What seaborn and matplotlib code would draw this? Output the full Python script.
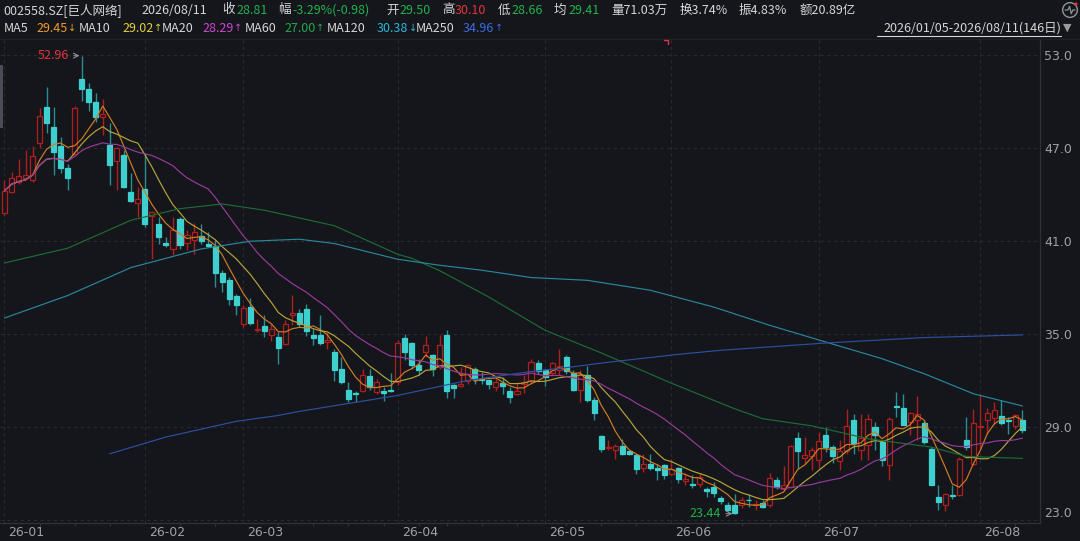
import matplotlib
matplotlib.use("Agg")
import matplotlib.pyplot as plt
import matplotlib.transforms as mtransforms
from matplotlib.patches import Rectangle, Circle
from matplotlib.lines import Line2D
import numpy as np
import pandas as pd
import seaborn as sns

# daily candles, 2026/01/05 - 2026/08/11 (146 trading days)
opens = [42.85, 44.20, 44.80, 45.10, 44.94, 47.30, 49.67, 48.37, 47.13, 45.75,
         46.61, 51.43, 50.79, 49.95, 49.00, 47.19, 46.18, 46.55, 44.16, 43.45,
         44.35, 42.63, 42.14, 40.90, 40.53, 42.42, 40.90, 41.06, 41.32, 40.79,
         40.68, 38.98, 38.53, 37.45, 35.66, 36.76, 35.30, 35.52, 34.98, 34.81,
         34.40, 36.27, 36.40, 36.66, 34.94, 34.94, 34.50, 33.86, 32.74, 31.39,
         31.21, 31.32, 32.31, 31.28, 31.37, 31.38, 31.92, 34.77, 34.44, 33.00,
         33.86, 33.69, 32.90, 34.94, 31.71, 31.66, 31.99, 32.79, 32.14, 32.03,
         31.60, 31.88, 31.32, 31.13, 31.82, 31.97, 33.15, 32.68, 32.50, 32.68,
         33.54, 32.50, 31.39, 32.35, 30.79, 28.42, 27.70, 27.52, 27.77, 27.47,
         27.19, 26.40, 26.66, 26.40, 26.55, 25.97, 26.38, 25.53, 25.37, 25.32,
         25.00, 25.19, 24.44, 24.03, 23.97, 24.03, 24.35, 23.97, 24.10, 24.01,
         25.58, 25.05, 25.15, 28.31, 27.05, 27.13, 26.87, 28.53, 27.73, 26.83,
         27.47, 29.45, 27.56, 27.84, 29.02, 28.05, 26.55, 30.38, 30.27, 29.34,
         29.50, 29.30, 27.63, 24.50, 24.03, 24.66, 24.66, 28.16, 26.66, 29.02,
         29.50, 29.63, 29.71, 29.50, 29.06, 29.50]
highs = [44.94, 45.47, 46.33, 46.87, 47.13, 49.56, 50.95, 49.67, 47.69, 46.00,
         49.70, 52.96, 51.17, 50.53, 50.14, 48.60, 47.08, 46.87, 45.37, 44.50,
         46.66, 42.96, 42.57, 41.28, 42.57, 42.57, 41.71, 42.18, 42.14, 41.60,
         41.06, 39.13, 38.70, 37.63, 36.90, 37.34, 36.01, 36.27, 35.64, 35.15,
         35.90, 37.52, 36.66, 36.98, 35.37, 36.23, 35.15, 34.03, 33.54, 31.92,
         31.34, 32.74, 32.74, 32.10, 31.60, 32.53, 34.61, 35.04, 34.50, 33.43,
         34.87, 33.75, 34.94, 35.26, 31.82, 32.90, 33.11, 32.90, 32.57, 32.14,
         32.14, 32.25, 31.60, 31.92, 32.35, 33.43, 33.37, 32.79, 33.21, 34.08,
         33.69, 32.68, 32.68, 32.94, 30.95, 28.48, 28.21, 27.95, 28.27, 27.56,
         27.26, 27.30, 27.30, 26.66, 26.66, 26.98, 26.44, 26.05, 25.90, 26.05,
         25.15, 25.47, 24.61, 24.18, 24.72, 24.50, 24.72, 24.34, 24.29, 26.05,
         25.80, 26.48, 27.84, 28.70, 28.40, 27.73, 28.70, 29.02, 27.84, 28.16,
         30.20, 29.88, 29.88, 29.88, 29.34, 28.21, 29.67, 31.28, 31.13, 29.99,
         31.02, 29.45, 27.73, 25.30, 24.76, 25.26, 27.08, 29.67, 30.20, 31.17,
         30.27, 30.63, 30.79, 29.67, 29.88, 30.10]
lows = [42.68, 44.08, 44.68, 44.94, 44.83, 46.98, 47.95, 45.26, 45.37, 44.33,
        46.50, 50.05, 49.40, 48.70, 47.84, 44.60, 44.33, 44.40, 43.54, 42.57,
        41.92, 39.88, 40.85, 40.63, 40.10, 40.53, 40.42, 40.20, 40.85, 40.60,
        38.05, 37.73, 36.87, 36.23, 35.50, 35.58, 35.15, 34.83, 34.55, 33.11,
        34.29, 35.58, 35.47, 34.89, 34.29, 34.34, 34.03, 32.00, 31.82, 30.63,
        30.63, 31.28, 31.39, 31.17, 30.68, 31.28, 31.75, 33.32, 32.79, 32.35,
        33.54, 32.29, 32.79, 30.92, 30.92, 31.60, 31.82, 31.82, 31.82, 31.50,
        31.32, 31.17, 30.59, 31.06, 31.21, 31.82, 32.46, 31.64, 32.35, 32.35,
        32.46, 31.34, 30.63, 30.63, 29.50, 27.41, 27.52, 26.98, 27.19, 27.19,
        26.01, 26.12, 26.23, 25.63, 25.69, 25.90, 25.41, 25.26, 25.11, 25.15,
        24.50, 24.50, 24.08, 23.60, 23.44, 23.82, 23.86, 23.69, 23.82, 23.86,
        25.05, 24.94, 25.11, 26.34, 26.66, 26.23, 26.40, 27.41, 26.70, 26.23,
        27.30, 27.26, 26.87, 26.87, 27.52, 26.48, 25.58, 29.67, 29.13, 28.48,
        28.16, 27.95, 25.26, 23.69, 23.60, 24.40, 24.61, 27.52, 26.55, 27.63,
        28.59, 29.24, 29.13, 28.59, 28.92, 28.66]
closes = [44.25, 45.10, 45.19, 45.30, 46.48, 49.06, 48.63, 46.72, 45.75, 45.10,
          49.60, 50.79, 49.95, 49.02, 49.20, 45.90, 46.98, 44.50, 43.60, 43.69,
          42.14, 42.89, 41.28, 40.76, 41.70, 40.76, 41.39, 41.60, 41.02, 40.70,
          38.98, 38.37, 37.30, 36.87, 36.70, 35.75, 35.37, 35.24, 35.37, 34.12,
          35.66, 36.40, 35.69, 35.19, 34.79, 34.44, 34.66, 32.68, 31.92, 30.85,
          31.15, 32.35, 31.58, 31.92, 31.24, 31.35, 34.46, 33.86, 33.00, 32.68,
          34.34, 32.74, 34.34, 31.32, 31.56, 31.82, 33.04, 32.10, 32.03, 31.82,
          31.92, 31.66, 30.95, 31.32, 31.92, 33.23, 32.61, 32.25, 33.17, 32.96,
          32.61, 31.43, 32.40, 30.74, 29.92, 27.63, 27.75, 27.77, 27.26, 27.30,
          26.34, 26.66, 26.40, 26.23, 25.90, 26.34, 25.65, 25.69, 25.26, 25.80,
          24.89, 24.76, 24.25, 23.69, 23.50, 24.34, 24.29, 24.08, 23.90, 25.76,
          25.19, 25.26, 27.77, 27.47, 27.24, 27.56, 28.10, 27.73, 27.15, 27.45,
          29.09, 28.01, 28.33, 29.56, 28.53, 26.91, 29.56, 30.32, 29.17, 29.92,
          29.88, 28.05, 25.30, 24.18, 24.72, 24.55, 26.98, 27.73, 29.28, 29.09,
          29.94, 30.10, 29.28, 29.39, 29.79, 28.81]

# long moving averages (they need history before the window)
ma60_idx = [0, 9, 18, 25, 31, 37, 47, 56, 58, 62, 69, 77, 85, 95, 104, 108, 115, 123, 132, 137, 145]
ma60_val = [39.6, 40.55, 42.35, 43.1, 43.4, 43.0, 42.0, 40.16, 39.9, 39.1, 37.4, 35.26, 33.8,
            31.85, 30.2, 29.56, 29.1, 28.27, 27.73, 27.13, 27.0]
ma120_idx = [0, 9, 13, 18, 23, 28, 35, 42, 47, 56, 62, 68, 75, 83, 92, 101, 109, 117, 125, 131, 138, 145]
ma120_val = [36.05, 37.5, 38.3, 39.3, 39.9, 40.5, 41.0, 41.13, 40.85, 39.84, 39.45, 39.13, 38.66,
             38.48, 37.84, 36.76, 35.58, 34.5, 33.43, 32.46, 31.17, 30.38]
ma250_idx = [15, 23, 33, 39, 42, 56, 66, 75, 80, 86, 96, 102, 117, 131, 145]
ma250_val = [27.3, 28.38, 29.39, 29.77, 30.03, 31.06, 32.03, 32.6, 32.85, 33.2, 33.71, 33.97,
             34.44, 34.79, 34.96]

month_starts = [0, 20, 34, 56, 77, 95, 116, 139]
month_labels = ["26-01", "26-02", "26-03", "26-04", "26-05", "26-06", "26-07", "26-08"]
week_starts = [5, 10, 15, 25, 30, 39, 44, 49, 54, 59, 63, 68, 73, 80, 85, 90,
               100, 105, 109, 114, 119, 124, 129, 134, 144]
price_ticks = [53.0, 47.0, 41.0, 35.0, 29.0, 23.0]

W, H = 1080, 541
BG = "#14161b"
UP = "#b01e1e"
DOWN = "#3ecfcf"
DOWN_WICK = "#2c8e90"
GRID = "#272a31"
TXT = "#d6d6d6"
AXTXT = "#9ea2a8"
GREEN = "#22b14c"
RED = "#e2363a"


def fx(x):
    return x / W


def fy(y):
    return 1 - y / H


sns.set_theme(style="dark", rc={"axes.facecolor": BG, "figure.facecolor": BG,
                                "savefig.facecolor": BG})
plt.rcParams["font.family"] = ["Noto Sans CJK SC", "DejaVu Sans"]

fig = plt.figure(figsize=(W / 100, H / 100), dpi=100)
ax_top, ax_bot = 40, 522.5
ax = fig.add_axes([0, fy(ax_bot), fx(1040), (ax_bot - ax_top) / H])
ax.set_facecolor(BG)

n = len(closes)
df = pd.DataFrame({"idx": np.arange(n), "open": opens, "high": highs,
                   "low": lows, "close": closes})
for w in (5, 10, 20):
    df[f"MA{w}"] = df["close"].rolling(w, min_periods=1).mean()

# grid
for p in price_ticks:
    ax.axhline(p, color=GRID, lw=0.8, ls=(0, (3, 3)), zorder=0)
for m in month_starts:
    ax.axvline(m, color=GRID, lw=0.8, ls=(0, (3, 3)), zorder=0)

# candles
for r in df.itertuples():
    up = r.close >= r.open
    lo, hi = min(r.open, r.close), max(r.open, r.close)
    ax.vlines(r.idx, r.low, r.high, color=UP if up else DOWN_WICK, lw=1.0, zorder=2)
    ax.add_patch(Rectangle((r.idx - 0.36, lo), 0.72, max(hi - lo, 0.04),
                           facecolor=BG if up else DOWN, edgecolor=UP if up else DOWN,
                           lw=0.9, zorder=3))

# moving averages
for col, c in [("MA5", "#d27c22"), ("MA10", "#b5a43a"), ("MA20", "#983a9a")]:
    sns.lineplot(data=df, x="idx", y=col, color=c, lw=0.85, ax=ax, zorder=4)
sns.lineplot(x=ma60_idx, y=ma60_val, color="#1d6c36", lw=0.85, ax=ax, zorder=4)
sns.lineplot(x=ma120_idx, y=ma120_val, color="#29879a", lw=0.85, ax=ax, zorder=4)
sns.lineplot(x=ma250_idx, y=ma250_val, color="#2e4ea0", lw=0.85, ax=ax, zorder=4)

# high / low markers
hi_i = int(np.argmax(highs))
lo_i = int(np.argmin(lows))
ax.annotate(f"{highs[hi_i]:.2f}", xy=(hi_i - 0.3, highs[hi_i]), xytext=(hi_i - 1.8, highs[hi_i]),
            ha="right", va="center", color=RED, fontsize=9,
            arrowprops=dict(arrowstyle="->", color="#8a8d92", lw=0.8, shrinkA=1, shrinkB=0))
ax.annotate(f"{lows[lo_i]:.2f}", xy=(lo_i - 0.3, lows[lo_i]), xytext=(lo_i - 1.9, lows[lo_i]),
            ha="right", va="center", color=GREEN, fontsize=9,
            arrowprops=dict(arrowstyle="->", color="#8a8d92", lw=0.8, shrinkA=1, shrinkB=0))

ax.set_xlim(-0.64, 147.5)
ax.set_ylim(22.87, 53.97)
ax.set_xlabel("")
ax.set_ylabel("")

ax.yaxis.tick_right()
ax.set_yticks(price_ticks, [f"{p:.1f}" for p in price_ticks])
ax.tick_params(axis="y", length=0, pad=3, labelsize=9, labelcolor=AXTXT)
for lab in ax.get_yticklabels():
    lab.set_fontfamily("DejaVu Sans")
ax.get_yticklabels()[-1].set_va("bottom")

# x axis: long month ticks, short weekly ticks, labels beside the month ticks
ax.set_xticks(month_starts, [""] * len(month_starts))
ax.set_xticks(week_starts, minor=True)
ax.tick_params(axis="x", which="major", length=9, width=0.8, color="#30333a", direction="out")
ax.tick_params(axis="x", which="minor", length=2.5, width=0.8, color="#30333a",
               direction="out", bottom=True)
shift = mtransforms.ScaledTranslation(4 / 100, 0, fig.dpi_scale_trans)
lab_y = -(532.5 - ax_bot) / (ax_bot - ax_top)
for m, s in zip(month_starts, month_labels):
    ax.text(m, lab_y, s, transform=ax.get_xaxis_transform() + shift, ha="left", va="center",
            color=AXTXT, fontsize=9, family="DejaVu Sans", clip_on=False)

for side in ("top", "left"):
    ax.spines[side].set_visible(False)
for side in ("bottom", "right"):
    ax.spines[side].set_color("#2e3138")
    ax.spines[side].set_linewidth(0.9)

# header row 1
fs = 9
row1 = [
    (3, "002558.SZ[巨人网络]", TXT), (141, "2026/08/11", TXT),
    (222, "收", TXT), (236, "28.81", GREEN),
    (278, "幅", TXT), (292, "-3.29%(-0.98)", GREEN),
    (386, "开", TXT), (399, "29.50", GREEN),
    (442, "高", TXT), (455, "30.10", RED),
    (498, "低", TXT), (511, "28.66", GREEN),
    (554, "均", TXT), (568, "29.41", GREEN),
    (611, "量71.03万", TXT), (680, "换3.74%", TXT),
    (739, "振4.83%", TXT), (800, "额20.89亿", TXT),
]
for x, s, c in row1:
    fig.text(fx(x), fy(10), s, color=c, fontsize=fs, va="center", ha="left")

# header row 2: MA legend, arrow placed right after the value
ma_names = ["MA5", "MA10", "MA20", "MA60", "MA120", "MA250"]
ma_values = ["29.45", "29.02", "28.29", "27.00", "30.38", "34.96"]
ma_arrows = ["↓", "↑", "↑", "↑", "↓", "↑"]
ma_colors = ["#f09a2c", "#e3cf3c", "#cf46cf", "#22a84a", "#2ab8d6", "#3b6ae0"]
name_x = [4, 79, 162, 245, 327, 416]
value_x = [36, 122, 202, 284, 377, 463]
renderer = fig.canvas.get_renderer()
for nm, v, a, c, x0, x1 in zip(ma_names, ma_values, ma_arrows, ma_colors, name_x, value_x):
    fig.text(fx(x0), fy(28), nm, color=TXT, fontsize=fs, va="center", ha="left")
    t = fig.text(fx(x1), fy(28), v, color=c, fontsize=fs, va="center", ha="left")
    x_end = t.get_window_extent(renderer).x1
    fig.text(fx(x_end + 0.5), fy(28), a, color=c, fontsize=7, va="center", ha="left",
             family="DejaVu Sans")

fig.text(fx(1061), fy(28), "2026/01/05-2026/08/11(146日)", color=TXT, fontsize=fs,
         va="center", ha="right")
fig.add_artist(Line2D([fx(877), fx(1061)], [fy(36), fy(36)], color=TXT, lw=0.8))
fig.text(fx(1063), fy(28), "▼", color="#9a9a9a", fontsize=8, va="center", ha="left",
         family="DejaVu Sans")
fig.add_artist(Line2D([0, 1], [fy(38.5), fy(38.5)], color="#1e2127", lw=1.0))

# small red marker at the top edge
fig.add_artist(Line2D([fx(664), fx(668), fx(668)], [fy(40), fy(40), fy(44)], color=RED, lw=1.0))

# scroll bar on the left
fig.add_artist(Rectangle((0, fy(128)), fx(2.5), (128 - 65) / H, transform=fig.transFigure,
                         facecolor="#4a4d55", edgecolor="none"))

# round icon top right
icon = fig.add_axes([fx(1061), fy(19), fx(18), 18 / H])
icon.set_xlim(-1.1, 1.1)
icon.set_ylim(-1.1, 1.1)
icon.set_aspect("equal")
icon.axis("off")
icon.add_patch(Circle((0, 0), 0.9, facecolor="none", edgecolor="#8d949c", lw=1.0))
icon.plot([-0.6, -0.25, -0.05, 0.15, 0.35, 0.6], [0, 0, 0.45, -0.45, 0, 0], color="#8d949c", lw=0.9)
icon.add_patch(Circle((0.72, 0.72), 0.2, facecolor=RED, edgecolor="none"))

fig.savefig("out.png", dpi=100, facecolor=BG)
